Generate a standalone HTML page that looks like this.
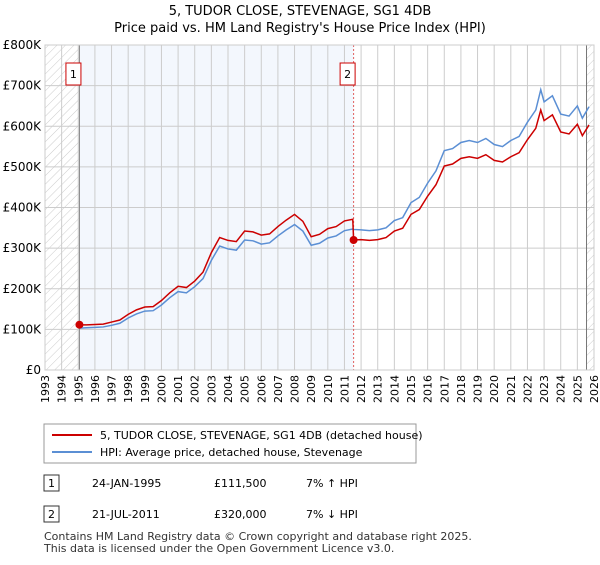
<!DOCTYPE html>
<html><head><meta charset="utf-8"><style>
body{margin:0;background:#fff;font-family:"Liberation Sans","DejaVu Sans",sans-serif;}
svg text{font-family:"DejaVu Sans","Liberation Sans",sans-serif;}
</style></head><body>
<svg id="c" width="600" height="560" viewBox="0 0 600 560">
<defs><pattern id="h" width="6" height="6" patternUnits="userSpaceOnUse" patternTransform="rotate(45)"><line x1="0" y1="0" x2="0" y2="6" stroke="#ccc" stroke-width="1"/></pattern></defs>
<text x="300" y="15" text-anchor="middle" font-size="13">5, TUDOR CLOSE, STEVENAGE, SG1 4DB</text>
<text x="300" y="32" text-anchor="middle" font-size="13">Price paid vs. HM Land Registry's House Price Index (HPI)</text>
<g id="plot"></g>
<g>
<rect x="44" y="424" width="372" height="39" fill="#fff" stroke="#999"/>
<line x1="52" y1="435" x2="92" y2="435" stroke="#cc0000" stroke-width="2"/>
<text x="100" y="439" font-size="11">5, TUDOR CLOSE, STEVENAGE, SG1 4DB (detached house)</text>
<line x1="52" y1="452" x2="92" y2="452" stroke="#5b8fd4" stroke-width="2"/>
<text x="100" y="456" font-size="11">HPI: Average price, detached house, Stevenage</text>
</g>
<g font-size="11">
<rect x="44" y="475" width="15" height="16" fill="#fff" stroke="#333"/><text x="51.5" y="487" text-anchor="middle">1</text>
<text x="92" y="487">24-JAN-1995</text><text x="214" y="487">£111,500</text><text x="306" y="487">7% ↑ HPI</text>
<rect x="44" y="506" width="15" height="16" fill="#fff" stroke="#333"/><text x="51.5" y="518" text-anchor="middle">2</text>
<text x="92" y="518">21-JUL-2011</text><text x="214" y="518">£320,000</text><text x="306" y="518">7% ↓ HPI</text>
</g>
<text x="44" y="540" font-size="11" fill="#333">Contains HM Land Registry data © Crown copyright and database right 2025.</text>
<text x="44" y="552" font-size="11" fill="#333">This data is licensed under the Open Government Licence v3.0.</text>
</svg>
<script>
const years=[1995.07,1995.5,1996,1996.5,1997,1997.5,1998,1998.5,1999,1999.5,2000,2000.5,2001,2001.5,2002,2002.5,2003,2003.5,2004,2004.5,2005,2005.5,2006,2006.5,2007,2007.5,2008,2008.5,2009,2009.5,2010,2010.5,2011,2011.5,2011.55,2012,2012.5,2013,2013.5,2014,2014.5,2015,2015.5,2016,2016.5,2017,2017.5,2018,2018.5,2019,2019.5,2020,2020.5,2021,2021.5,2022,2022.5,2022.8,2023,2023.5,2024,2024.5,2025,2025.3,2025.7];
const hpi=[103,104,105,106,110,115,128,138,145,146,160,178,193,190,205,225,270,305,298,295,320,318,310,313,330,345,358,342,307,312,325,330,343,347,346,345,343,345,350,368,375,412,425,460,490,540,545,560,565,560,570,555,550,565,575,610,640,690,660,675,630,625,650,620,648];
const price=[111,111,112,113,118,123,137,148,155,156,171,190,206,203,219,241,289,326,319,316,342,340,332,335,353,369,383,366,328,334,348,353,367,371,320,321,319,321,326,342,349,383,395,428,456,502,507,521,525,521,530,516,512,525,535,567,595,640,614,628,586,581,605,577,603];
const sales=[[1995.07,111.5,'1'],[2011.55,320,'2']];
const yTicks=[0,100,200,300,400,500,600,700,800];
const yLabels=['£0','£100K','£200K','£300K','£400K','£500K','£600K','£700K','£800K'];
const X0=45,X1=594,Y0=370,Y1=45;
const xs=y=>X0+(y-1993)/33*(X1-X0);
const ys=v=>Y0-v/800*(Y0-Y1);
const NS='http://www.w3.org/2000/svg';
const g=document.getElementById('plot');
function mk(t,a,p){const e=document.createElementNS(NS,t);for(const k in a)e.setAttribute(k,a[k]);(p||g).appendChild(e);return e;}
let e;
e=mk('rect',{x:X0,y:Y1,width:X1-X0,height:Y0-Y1,fill:'#fff'});
e=mk('rect',{x:X0,y:Y1,width:xs(1995.07)-X0,height:Y0-Y1,fill:'url(#h)'});


e=mk('rect',{x:xs(2025.55),y:Y1,width:X1-xs(2025.55),height:Y0-Y1,fill:'url(#h)'});


e=mk('rect',{x:xs(1995.07),y:Y1,width:xs(2011.55)-xs(1995.07),height:Y0-Y1,fill:'#eef3fc',opacity:0.7});


for(let y=1993;y<=2026;y++){
 mk('line',{x1:xs(y),x2:xs(y),y1:Y1,y2:Y0,stroke:'#ccc','stroke-width':1});
 e=mk('text',{x:0,y:0,'font-size':11,'text-anchor':'end',transform:`translate(${xs(y)+4},${Y0+5}) rotate(-90)`});
 e.textContent=y;
 
 
}
yTicks.forEach((v,i)=>{
 mk('line',{x1:X0,x2:X1,y1:ys(v),y2:ys(v),stroke:'#ccc','stroke-width':1});
 e=mk('text',{x:X0-4,y:ys(v)+4,'font-size':12,'text-anchor':'end'});
 e.textContent=yLabels[i];
 
 
});
mk('line',{x1:xs(1995.07),x2:xs(1995.07),y1:Y1,y2:Y0,stroke:'#888','stroke-width':1});
mk('line',{x1:xs(2025.55),x2:xs(2025.55),y1:Y1,y2:Y0,stroke:'#777','stroke-width':1});
mk('line',{x1:xs(2011.55),x2:xs(2011.55),y1:Y1,y2:Y0,stroke:'#e06060','stroke-width':1,'stroke-dasharray':'2,2'});
e=mk('polyline',{points:years.map((y,i)=>xs(y)+','+ys(hpi[i])).join(' '),fill:'none',stroke:'#5b8fd4','stroke-width':1.5});


e=mk('polyline',{points:years.map((y,i)=>xs(y)+','+ys(price[i])).join(' '),fill:'none',stroke:'#cc0000','stroke-width':1.5});


sales.forEach(s=>{
 e=mk('circle',{cx:xs(s[0]),cy:ys(s[1]),r:4,fill:'#cc0000'});
 
 
 const bx=xs(s[0])-6;
 e=mk('rect',{x:bx-7.5,y:63,width:15,height:22,fill:'#fff',stroke:'#cc0000'});
 
 
 e=mk('text',{x:bx,y:78,'font-size':11,'text-anchor':'middle'});
 e.textContent=s[2];
 
 
});
mk('rect',{x:X0,y:Y1,width:X1-X0,height:Y0-Y1,fill:'none',stroke:'#ccc'});
</script>
</body></html>
